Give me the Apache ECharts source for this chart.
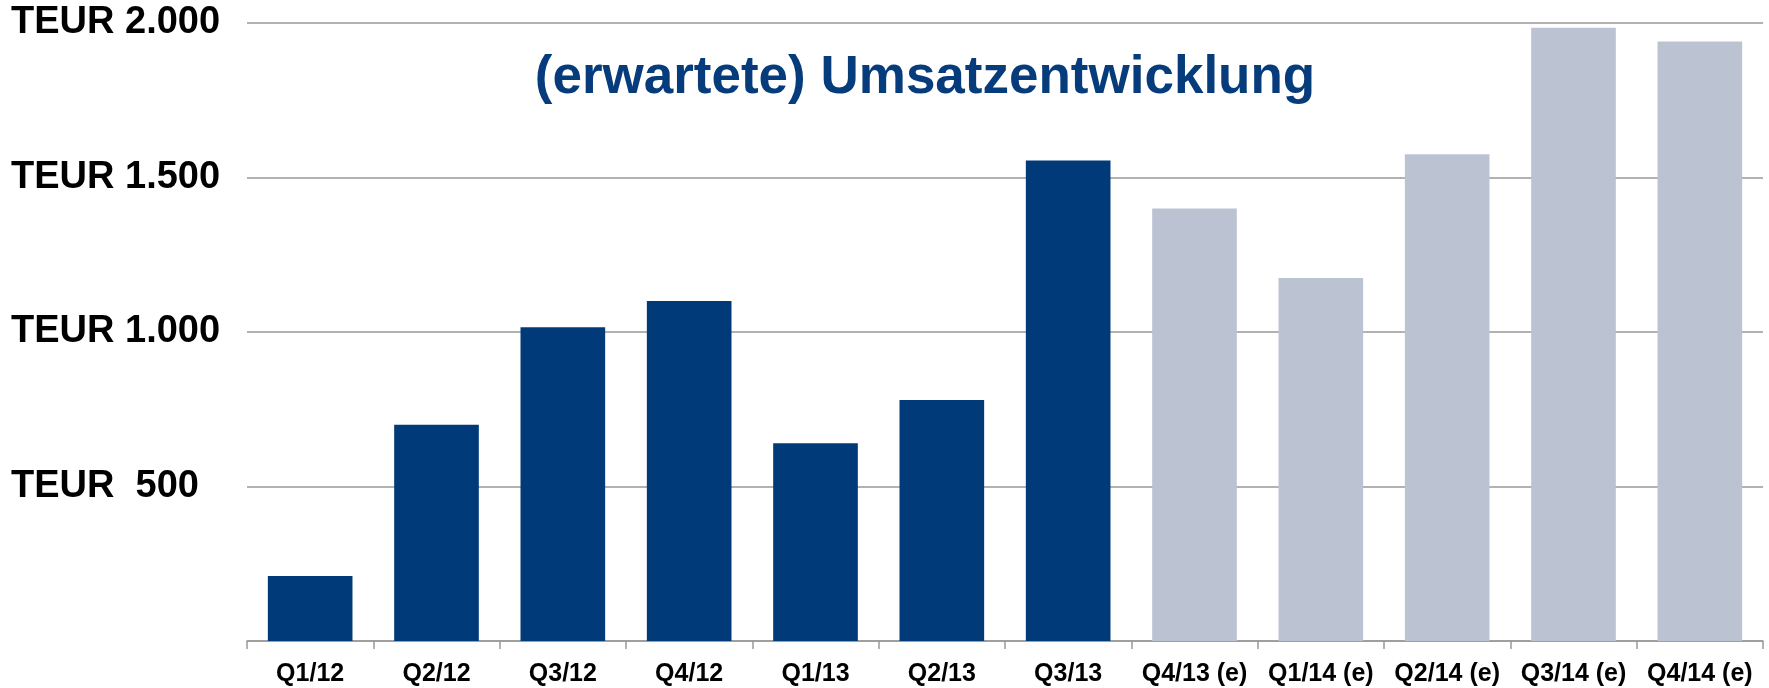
<!DOCTYPE html>
<html>
<head>
<meta charset="utf-8">
<script src="https://cdn.jsdelivr.net/npm/echarts@6/dist/echarts.min.js"></script>
<style>
  html, body { margin: 0; padding: 0; background: #fff; }
  #chart { width: 1769px; height: 688px; }
</style>
</head>
<body>
<div id="chart"></div>
<script>
const quartale = ['Q1/12', 'Q2/12', 'Q3/12', 'Q4/12', 'Q1/13', 'Q2/13', 'Q3/13',
  'Q4/13 (e)', 'Q1/14 (e)', 'Q2/14 (e)', 'Q3/14 (e)', 'Q4/14 (e)']
// Ist-Umsatz (TEUR)
const istWerte = [210, 700, 1015, 1100, 640, 780, 1555]
// erwarteter Umsatz (TEUR)
const prognoseWerte = [1400, 1175, 1575, 1985, 1940]
const yTicks = [500, 1000, 1500, 2000]
const yLabels = ['TEUR  500', 'TEUR 1.000', 'TEUR 1.500', 'TEUR 2.000']

const istData = quartale.map((q, i) => (i < istWerte.length ? istWerte[i] : '-'))
const prognoseData = quartale.map((q, i) => (i >= istWerte.length ? prognoseWerte[i - istWerte.length] : '-'))

const myChart = echarts.init(document.getElementById('chart'))
myChart.setOption({
  animation: false,
  graphic: [
    {
      type: 'text',
      x: 925,
      y: 78,
      z: 100,
      style: {
        text: '(erwartete) Umsatzentwicklung',
        font: 'bold 53px "Liberation Sans", Arial, sans-serif',
        fill: '#063C7B',
        align: 'center',
        verticalAlign: 'middle',
      },
    },
  ],
  grid: {
    left: 247,
    right: 6,
    top: 23,
    bottom: 47,
  },
  xAxis: {
    type: 'category',
    data: quartale,
    axisLine: { lineStyle: { color: '#999', width: 1.5 } },
    axisTick: { show: true, length: 8, lineStyle: { color: '#999', width: 1.5 } },
    axisLabel: {
      interval: 0,
      color: '#000',
      fontWeight: 'bold',
      fontSize: 25,
      fontFamily: '"Liberation Sans", Arial, sans-serif',
      margin: 21,
    },
  },
  yAxis: {
    type: 'value',
    min: 0,
    max: 2000,
    interval: 500,
    axisLine: { show: false },
    axisTick: { show: false },
    splitLine: { lineStyle: { color: '#999', width: 1.5 } },
    axisLabel: {
      align: 'left',
      margin: 236,
      color: '#000',
      fontWeight: 'bold',
      fontSize: 38,
      fontFamily: '"Liberation Sans", Arial, sans-serif',
      formatter(v) {
        const i = yTicks.indexOf(v)
        return i >= 0 ? yLabels[i] : ''
      },
    },
  },
  series: [
    {
      name: 'Ist',
      type: 'bar',
      stack: 'umsatz',
      barWidth: '67%',
      itemStyle: { color: '#003A78' },
      data: istData,
    },
    {
      name: 'Prognose',
      type: 'bar',
      stack: 'umsatz',
      barWidth: '67%',
      itemStyle: { color: '#BBC3D3' },
      data: prognoseData,
    },
  ],
})
</script>
</body>
</html>
